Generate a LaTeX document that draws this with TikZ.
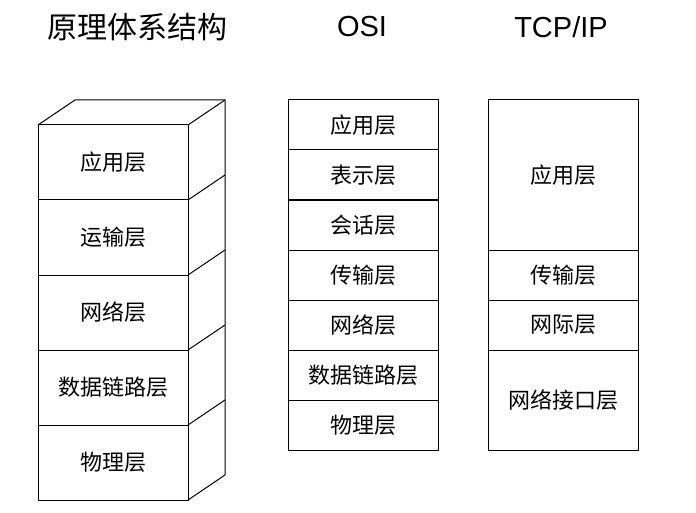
\documentclass[tikz,border=0pt]{standalone}
\usepackage{fontspec}
\setmainfont{Liberation Sans}
\newfontfamily\cjk{Noto Sans CJK SC}
\usetikzlibrary{positioning}
\tikzset
{
  layer/.style={draw,line width=1pt,outer sep=0pt,inner sep=0pt,minimum width=150pt,
    font=\cjk\fontsize{22}{22}\selectfont},
  title/.style={font=\fontsize{29}{29}\selectfont}
}

\begin{document}
\begin{tikzpicture}[x=1pt,y=-1pt,line join=round]
  \useasboundingbox (0,0) rectangle (696,513);
  % titles
  \node[title,font=\cjk\fontsize{30}{30}\selectfont] (archtitle) at (137,27) {原理体系结构};
  \node[title] (osititle) at (362,27) {OSI};
  \node[title] (tcptitle) at (561,27) {TCP/IP};
  % five layer stack, front faces
  \foreach \name [count=\i] in {应用层,运输层,网络层,数据链路层,物理层}
    \node[layer,minimum height=75pt] (arch\i) at (113,{162.5+75*(\i-1)}) {\name};
  % top and side faces
  \draw[line width=1pt] (arch1.north west) -- ++(37,-25) -- ++(150,0) -- ++(0,375) -- (arch5.south east);
  \draw[line width=1pt] (arch1.north east) -- ++(37,-25);
  \foreach \i in {1,...,4}
    \draw[line width=1pt] (arch\i.south east) -- ++(37,-25);
  % OSI
  \foreach \name [count=\i] in {应用层,表示层,会话层,传输层,网络层,数据链路层,物理层}
    \node[layer,minimum height=50pt] (osi\i) at (363,{125+50*(\i-1)}) {\name};
  \draw[line width=2pt] (osi2.south west) -- (osi2.south east);
  % TCP/IP
  \node[layer,minimum height=150pt] (tcp1) at (563,175) {应用层};
  \node[layer,minimum height=50pt,below=0pt of tcp1] (tcp2) {传输层};
  \node[layer,minimum height=50pt,below=0pt of tcp2] (tcp3) {网际层};
  \node[layer,minimum height=100pt,below=0pt of tcp3] (tcp4) {网络接口层};
\end{tikzpicture}
\end{document}
